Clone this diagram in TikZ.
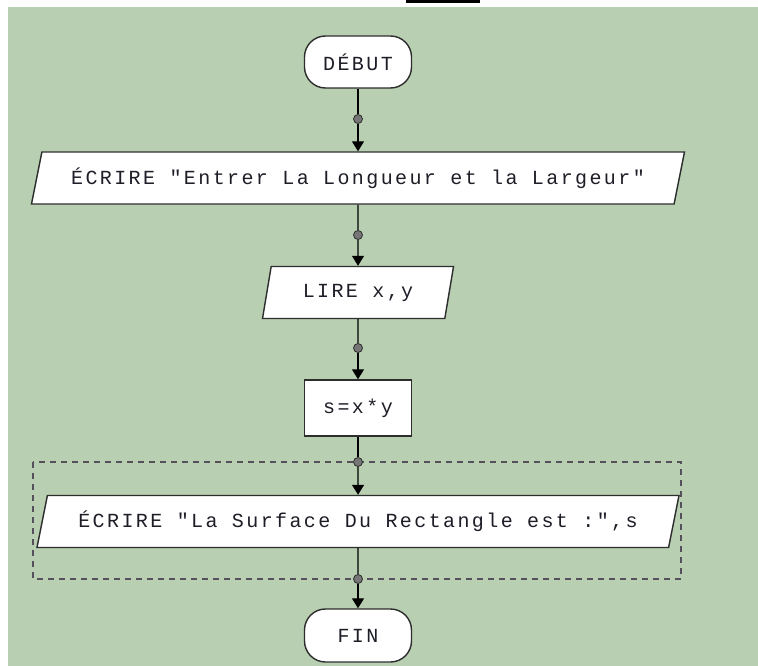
\documentclass[tikz,border=0pt]{standalone}
\usepackage{fontspec}
\usepackage{tikz}
\usetikzlibrary{shapes.geometric}
\usetikzlibrary{arrows.meta}
\newfontfamily\flowfont[LetterSpace=12]{Liberation Mono}
\definecolor{bggreen}{RGB}{184,207,178}
\definecolor{edgegray}{RGB}{45,45,45}
\definecolor{dotgray}{RGB}{118,118,118}
\definecolor{dashgray}{RGB}{85,80,92}
\definecolor{txtcol}{RGB}{30,30,40}
\tikzset{
  flowtext/.style={font=\flowfont\fontsize{20}{24}\selectfont, text=txtcol},
  term/.style={flowtext, shape=rectangle, rounded corners=21pt, draw=edgegray, line width=1.4pt, fill=white, inner sep=0pt, minimum width=107pt, minimum height=52pt},
  procbox/.style={flowtext, shape=rectangle, draw=edgegray, line width=1.4pt, fill=white, inner sep=0pt, minimum width=107pt, minimum height=56pt},
  iobox/.style={flowtext, shape=trapezium, trapezium left angle=63.4, trapezium right angle=116.6, trapezium stretches body, draw=edgegray, line width=1.4pt, fill=white, inner sep=0pt, minimum height=52pt},
  joint/.style={shape=circle, draw=edgegray, fill=dotgray, line width=0.8pt, inner sep=0pt, minimum size=9pt},
  flowline/.style={draw=black, line width=1.3pt},
  flowarrow/.style={flowline, -{Triangle[width=12pt,length=10pt]}},
  groupbox/.style={draw=dashgray, line width=1.4pt, dash pattern=on 6pt off 5pt}
}
\newcommand{\jointdot}[3]{\node[joint] (#1) at ( #2 , #3 ) {};}
\begin{document}
\begin{tikzpicture}[x=1pt,y=-1pt]
    \useasboundingbox (0,0) rectangle (758,666);
    % background
    \fill[white] (0,0) rectangle (758,666);
    \fill[black] (406,0) rectangle (480,3);
    \fill[bggreen] (8,7) rectangle (757.5,666);

    % dashed group round the last output
    \draw[groupbox] (33,462) rectangle (681,579);

    % blocks
    \node[term] (debut) at (358,62) {DÉBUT};
    \node[iobox, minimum width=653pt] (ecrire1) at (358,178) {ÉCRIRE "Entrer La Longueur et la Largeur"};
    \node[iobox, minimum width=191pt] (lire) at (358,292.5) {LIRE x,y};
    \node[procbox] (calcul) at (358,408) {s=x*y};
    \node[iobox, minimum width=642pt] (ecrire2) at (358,521.5) {ÉCRIRE "La Surface Du Rectangle est :",s};
    \node[term, minimum height=53pt] (fin) at (358,635.5) {FIN};

    % joints
    \jointdot{d1}{358}{119}
    \jointdot{d2}{358}{235}
    \jointdot{d3}{358}{348}
    \jointdot{d4}{358}{462}
    \jointdot{d5}{358}{579}

    % connectors
    \draw[flowline] (debut) -- (d1);
    \draw[flowarrow] (d1) -- (ecrire1);
    \draw[flowline] (ecrire1) -- (d2);
    \draw[flowarrow] (d2) -- (lire);
    \draw[flowline] (lire) -- (d3);
    \draw[flowarrow] (d3) -- (calcul);
    \draw[flowline] (calcul) -- (d4);
    \draw[flowarrow] (d4) -- (ecrire2);
    \draw[flowline] (ecrire2) -- (d5);
    \draw[flowarrow] (d5) -- (fin);
\end{tikzpicture}
\end{document}
